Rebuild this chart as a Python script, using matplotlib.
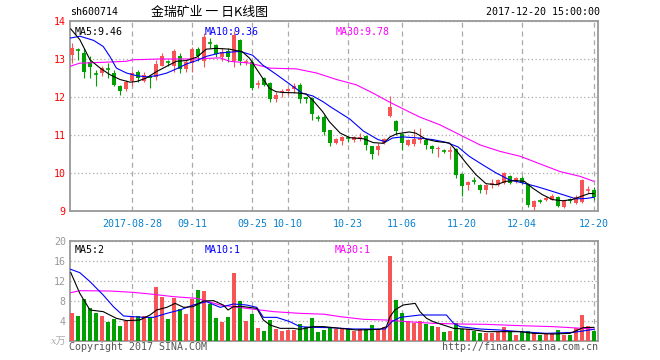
import matplotlib
matplotlib.use("Agg")
import matplotlib.pyplot as plt
from matplotlib.patches import Rectangle

# daily candles, 2017-08-14 .. 2017-12-20 (index 0..87)
opens = [13.10, 13.25, 13.15, 12.91, 12.62, 12.63, 12.74, 12.63, 12.28, 12.22,
         12.41, 12.66, 12.41, 12.55, 12.52, 12.82, 12.92, 12.82, 13.09, 12.74,
         12.90, 13.26, 12.95, 13.42, 13.36, 13.05, 13.20, 12.95, 13.50, 12.90,
         12.93, 12.32, 12.49, 12.36, 11.95, 12.12, 12.16, 12.20, 12.31, 11.99,
         11.98, 11.47, 11.48, 11.12, 10.79, 10.83, 10.93, 10.88, 10.93, 10.98,
         10.70, 10.61, 10.79, 11.51, 11.36, 11.03, 10.73, 10.77, 10.88, 10.87,
         10.72, 10.62, 10.58, 10.57, 10.62, 9.98, 9.69, 9.81, 9.69, 9.56,
         9.69, 9.69, 9.75, 9.91, 9.78, 9.87, 9.72, 9.10, 9.28, 9.28,
         9.30, 9.37, 9.10, 9.31, 9.21, 9.25, 9.55, 9.56]
highs = [13.42, 13.30, 13.28, 13.09, 12.72, 12.81, 12.89, 12.72, 12.32, 12.45,
         12.69, 12.72, 12.65, 12.59, 12.98, 13.16, 12.98, 13.26, 13.16, 12.98,
         13.31, 13.31, 13.69, 13.55, 13.40, 13.30, 13.30, 13.73, 13.52, 13.00,
         12.98, 12.45, 12.52, 12.40, 12.14, 12.22, 12.25, 12.36, 12.36, 12.00,
         12.00, 11.52, 11.52, 11.14, 10.92, 10.97, 10.98, 10.98, 11.05, 11.00,
         10.72, 10.78, 10.92, 12.02, 11.40, 11.05, 10.90, 11.16, 11.18, 10.90,
         10.74, 10.70, 10.62, 10.70, 10.66, 10.00, 9.80, 9.90, 9.72, 9.72,
         9.84, 9.84, 10.02, 9.95, 9.90, 9.93, 9.74, 9.28, 9.32, 9.40,
         9.45, 9.40, 9.28, 9.34, 9.42, 9.85, 9.65, 9.62]
lows = [12.90, 12.98, 12.50, 12.50, 12.30, 12.54, 12.50, 12.28, 12.06, 12.17,
        12.28, 12.39, 12.39, 12.24, 12.45, 12.81, 12.81, 12.65, 12.63, 12.67,
        12.65, 12.94, 12.80, 13.28, 13.05, 12.95, 12.93, 12.80, 12.85, 12.83,
        12.18, 12.25, 12.28, 11.88, 11.88, 12.00, 12.05, 12.10, 11.83, 11.83,
        11.39, 11.37, 11.00, 10.72, 10.76, 10.74, 10.82, 10.82, 10.84, 10.60,
        10.38, 10.48, 10.76, 11.47, 11.00, 10.60, 10.70, 10.70, 10.80, 10.62,
        10.53, 10.42, 10.52, 10.38, 9.87, 9.40, 9.55, 9.70, 9.48, 9.45,
        9.60, 9.66, 9.72, 9.70, 9.74, 9.72, 9.10, 9.02, 9.22, 9.26,
        9.28, 9.10, 9.08, 9.22, 9.18, 9.22, 9.48, 9.30]
closes = [13.29, 13.22, 12.66, 12.79, 12.60, 12.76, 12.72, 12.32, 12.17, 12.39,
          12.63, 12.50, 12.59, 12.50, 12.87, 13.09, 12.90, 13.22, 12.74, 12.91,
          13.26, 13.07, 13.57, 13.40, 13.12, 13.18, 13.05, 13.64, 12.95, 12.93,
          12.24, 12.35, 12.31, 11.95, 12.04, 12.15, 12.20, 12.28, 11.96, 11.95,
          11.54, 11.45, 11.09, 10.80, 10.89, 10.95, 10.91, 10.95, 10.96, 10.74,
          10.50, 10.70, 10.90, 11.73, 11.11, 10.79, 10.88, 10.89, 10.92, 10.74,
          10.64, 10.65, 10.56, 10.60, 9.96, 9.67, 9.76, 9.79, 9.54, 9.69,
          9.74, 9.81, 9.99, 9.74, 9.87, 9.74, 9.17, 9.27, 9.27, 9.34,
          9.40, 9.12, 9.25, 9.29, 9.37, 9.82, 9.58, 9.36]
# volume, x 10k lots
volumes = [5.60, 4.94, 8.27, 6.60, 5.60, 4.94, 3.80, 4.27, 2.94, 4.00,
           4.94, 4.94, 4.94, 4.67, 10.80, 8.80, 4.27, 8.60, 6.27, 5.34,
           8.34, 10.14, 9.94, 7.34, 4.60, 3.80, 4.67, 13.60, 7.94, 3.94,
           5.34, 2.47, 2.00, 4.14, 2.34, 2.00, 2.14, 2.14, 3.27, 2.80,
           4.60, 1.80, 2.14, 2.70, 2.27, 2.27, 2.27, 2.00, 2.27, 2.27,
           3.14, 2.27, 2.80, 16.94, 8.14, 5.60, 4.00, 3.60, 4.00, 3.34,
           2.94, 2.67, 1.74, 2.00, 3.47, 2.27, 2.27, 1.94, 1.47, 1.60,
           1.60, 1.80, 2.80, 1.80, 1.14, 1.80, 2.00, 1.47, 1.14, 1.47,
           1.47, 2.14, 1.14, 1.14, 2.47, 5.14, 2.94, 2.00]

# moving-average lines (index, value)
ma5_x = [-0.2, 1.3, 3, 4.7, 6.3, 8, 9.7, 10.8, 12.4, 14.1, 15.8, 17.4, 19.1, 20.8,
         22.4, 24.1, 26.2, 28.4, 29.6, 30.7, 31.8, 32.9, 34, 35.1, 37.3, 39, 40.1,
         41.8, 42.9, 44.7, 46.3, 48.6, 50.2, 51.9, 53, 54.1, 56.2, 57.3, 59, 60.7,
         62.9, 64, 65.7, 67.3, 69, 70.7, 72.3, 74, 75.4, 76.8, 78.4, 80.1, 81.8,
         83.4, 85.1, 86.2, 87]
ma5_y = [13.79, 13.51, 12.98, 12.76, 12.59, 12.46, 12.39, 12.41, 12.50, 12.67,
         12.81, 12.94, 12.96, 13.05, 13.26, 13.28, 13.26, 13.19, 13.02, 12.75,
         12.49, 12.23, 12.14, 12.12, 12.11, 12.08, 11.92, 11.61, 11.35, 11.05,
         10.93, 10.90, 10.80, 10.78, 10.95, 11.03, 11.08, 11.05, 10.89, 10.83,
         10.79, 10.60, 10.26, 9.96, 9.72, 9.69, 9.78, 9.80, 9.78, 9.60, 9.43,
         9.30, 9.27, 9.30, 9.40, 9.46, 9.46]
ma10_x = [-0.3, 1.3, 3.6, 5.2, 6.3, 7.4, 9.1, 10.8, 12.4, 14.1, 15.8, 17.4, 19.1,
          20.8, 22.4, 24.7, 28, 30.1, 31.8, 34, 36.2, 38.4, 40.1, 41.8, 43, 46.3,
          48.6, 51, 52.3, 53.4, 55.1, 57.9, 60.1, 62.3, 64.3, 66.2, 68.4, 70.7,
          72.9, 75.1, 77.3, 79.6, 81.8, 84, 85.7, 87]
ma10_y = [13.55, 13.60, 13.49, 13.33, 13.07, 12.76, 12.63, 12.56, 12.53, 12.56,
          12.63, 12.74, 12.87, 12.96, 13.07, 13.16, 13.20, 13.10, 12.84, 12.60,
          12.35, 12.10, 12.03, 11.88, 11.75, 11.42, 11.10, 10.88, 10.82, 10.92,
          10.95, 10.92, 10.88, 10.81, 10.69, 10.44, 10.22, 10.00, 9.82, 9.74,
          9.65, 9.54, 9.43, 9.32, 9.33, 9.36]
ma30_x = [-0.3, 1.3, 4.7, 9.1, 10.2, 14.7, 20.2, 24.7, 26.3, 29.7, 33, 37.4, 40.8,
          44.1, 47.4, 50.2, 53, 56.3, 58, 61.3, 64.7, 68, 71.3, 74.7, 78, 81.3,
          84.7, 87]
ma30_y = [12.81, 12.89, 12.91, 12.94, 12.98, 13.00, 13.00, 13.03, 12.94, 12.89,
          12.76, 12.74, 12.63, 12.46, 12.32, 12.10, 11.86, 11.60, 11.47, 11.27,
          11.00, 10.74, 10.57, 10.44, 10.24, 10.04, 9.91, 9.78]

vma5_x = [-0.2, 1.3, 3, 5.2, 7.4, 9.1, 11.3, 13, 14.1, 15.8, 17.2, 18.6, 20.2,
          21.9, 23.6, 25.2, 26, 26.9, 28.6, 30.8, 31.9, 33, 34.7, 36.9, 38, 40.2,
          42, 44.7, 47.4, 51.3, 52.4, 53, 53.8, 55.2, 57.2, 58, 59.1, 60.2, 62.4,
          63.6, 66.3, 69.1, 71.9, 74.7, 76.9, 80.2, 83, 85.2, 87]
vma5_y = [13.61, 9.47, 6.14, 5.81, 4.47, 4.01, 4.14, 5.14, 6.14, 6.67, 7.47, 6.67,
          6.81, 7.94, 8.01, 7.14, 6.14, 6.81, 6.81, 6.47, 4.14, 3.14, 2.47, 2.47,
          2.27, 2.81, 2.81, 2.47, 2.14, 2.27, 2.81, 4.81, 6.14, 7.14, 7.47, 5.81,
          4.47, 3.81, 2.94, 2.47, 2.27, 1.81, 1.81, 1.81, 1.47, 1.34, 1.47, 2.61,
          2.67]
vma10_x = [-0.2, 1.3, 3, 5.2, 6.9, 8.6, 11.9, 13.6, 15.8, 18, 20.2, 22.4, 24.7,
           26.9, 29.1, 30.8, 31.9, 34.1, 36.3, 38, 40.2, 43, 46.9, 52.2, 53.3,
           54.7, 58, 62.4, 63.6, 64.7, 68, 71.3, 74.7, 79.1, 83.6, 87]
vma10_y = [14.27, 13.61, 11.81, 9.14, 6.81, 4.94, 4.67, 4.67, 5.47, 6.14, 7.14,
           7.81, 6.67, 7.34, 7.14, 6.67, 4.67, 4.67, 3.81, 2.81, 2.67, 2.61, 2.34,
           2.34, 3.81, 4.67, 5.14, 5.14, 3.47, 2.81, 2.34, 2.14, 1.81, 1.47, 1.67,
           2.27]
vma30_x = [-0.2, 1.3, 6.3, 10.2, 13.6, 16.9, 20.8, 24.7, 29.1, 33.6, 38, 42, 44.7,
           48.6, 52.4, 55.8, 60.2, 64.7, 69.1, 74.7, 80.2, 85.2, 87]
vma30_y = [9.61, 10.01, 9.94, 9.67, 9.27, 8.81, 8.47, 7.14, 6.47, 5.81, 5.47, 5.30,
           4.81, 4.27, 4.14, 3.81, 3.47, 3.34, 3.27, 3.01, 2.81, 2.47, 2.27]

date_idx = [10, 20, 30, 36, 46, 55, 65, 75, 87]
date_labels = ["2017-08-28", "09-11", "09-25", "10-10", "10-23",
               "11-06", "11-20", "12-04", "12-20"]
price_ticks = [9, 10, 11, 12, 13, 14]
vol_ticks = [4, 8, 12, 16, 20]

RED = "#f75555"
GREEN = "#00a000"
GRIDC = "#aaaaaa"
FRAME = "#999999"
MONO = ["DejaVu Sans Mono", "Noto Sans CJK SC"]
FS = 7.2
BODY_W = 0.7

fig = plt.figure(figsize=(6.6, 3.6), dpi=100)
W, H = 660.0, 360.0
ax = fig.add_axes([70 / W, 1 - 211 / H, 528 / W, 190 / H])
axv = fig.add_axes([70 / W, 1 - 340.7 / H, 528 / W, 100 / H])

xlo, xhi = -1 / 3, 87.67


def style(a):
    for s in a.spines.values():
        s.set_color(FRAME)
        s.set_linewidth(1.3)
    a.set_xlim(xlo, xhi)
    a.tick_params(length=0)
    a.grid(axis="x", color=GRIDC, linestyle=(0, (4, 3)), linewidth=0.9)
    a.grid(axis="y", color=GRIDC, linestyle=(0, (1, 2)), linewidth=0.9)
    a.set_axisbelow(True)


# ---- price panel ----
style(ax)
ax.set_ylim(9, 14)
ax.set_yticks(price_ticks)
ax.set_yticklabels([str(t) for t in price_ticks], color="red",
                   family=MONO, fontsize=FS)
ax.tick_params(axis="y", pad=3)
ax.set_xticks(date_idx)
ax.set_xticklabels(date_labels, color="#0a80cc", family=MONO, fontsize=FS)
ax.tick_params(axis="x", pad=6)

for i, (o, h, l, c) in enumerate(zip(opens, highs, lows, closes)):
    col = RED if c >= o else GREEN
    ax.vlines(i, l, h, color=col, linewidth=0.8, zorder=3)
    lo, hi = min(o, c), max(o, c)
    if hi - lo < 0.03:
        ax.hlines((o + c) / 2, i - BODY_W / 2, i + BODY_W / 2, color=col,
                  linewidth=1.2, zorder=3)
    else:
        ax.add_patch(Rectangle((i - BODY_W / 2, lo), BODY_W, hi - lo,
                               facecolor=col, edgecolor="none", zorder=3))

ax.plot(ma30_x, ma30_y, color="#ff00ff", linewidth=0.8, zorder=4)
ax.plot(ma10_x, ma10_y, color="#0000ff", linewidth=0.8, zorder=4)
ax.plot(ma5_x, ma5_y, color="black", linewidth=0.8, zorder=4)

ax.text(0.008, 0.94, "MA5:9.46", transform=ax.transAxes, color="black",
        family=MONO, fontsize=FS, va="center", ha="left", zorder=6)
ax.text((205 - 70) / 528, 0.94, "MA10:9.36", transform=ax.transAxes, color="#0000ff",
        family=MONO, fontsize=FS, va="center", ha="left", zorder=6)
ax.text((336 - 70) / 528, 0.94, "MA30:9.78", transform=ax.transAxes, color="#ff00ff",
        family=MONO, fontsize=FS, va="center", ha="left", zorder=6)

# ---- volume panel ----
style(axv)
axv.set_ylim(0, 20)
axv.set_yticks(vol_ticks)
axv.set_yticklabels([str(t) for t in vol_ticks], color="#999999",
                    family=MONO, fontsize=FS)
axv.tick_params(axis="y", pad=3)
axv.set_xticks(date_idx)
axv.set_xticklabels([])

vcols = [RED if c >= o else GREEN for o, c in zip(opens, closes)]
axv.bar(range(len(volumes)), volumes, width=0.78, color=vcols, zorder=3)
axv.plot(vma30_x, vma30_y, color="#ff00ff", linewidth=0.8, zorder=4)
axv.plot(vma10_x, vma10_y, color="#0000ff", linewidth=0.8, zorder=4)
axv.plot(vma5_x, vma5_y, color="black", linewidth=0.8, zorder=4)

axv.text(0.008, 0.91, "MA5:2", transform=axv.transAxes, color="black",
         family=MONO, fontsize=FS, va="center", ha="left", zorder=6)
axv.text((205 - 70) / 528, 0.91, "MA10:1", transform=axv.transAxes, color="#0000ff",
         family=MONO, fontsize=FS, va="center", ha="left", zorder=6)
axv.text((335 - 70) / 528, 0.91, "MA30:1", transform=axv.transAxes, color="#ff00ff",
         family=MONO, fontsize=FS, va="center", ha="left", zorder=6)
fig.text(67 / W, 1 - 341 / H, "x万", color="#aaaaaa", fontsize=FS, style="italic",
         family=["DejaVu Serif", "Noto Sans CJK SC"], ha="right", va="center")

# ---- header / footer ----
fig.text(70 / W, 1 - 12 / H, "sh600714", family=MONO, fontsize=FS,
         color="black", va="center")
fig.text(151 / W, 1 - 12 / H, "金瑞矿业 一 日K线图", family=["Noto Sans CJK SC"],
         fontsize=9.3, color="black", va="center")
fig.text(600 / W, 1 - 12 / H, "2017-12-20 15:00:00", family=MONO, fontsize=FS,
         color="black", va="center", ha="right")
fig.text(69 / W, 1 - 347 / H, "Copyright 2017 SINA.COM", family=MONO, fontsize=FS,
         color="#555555", va="center")
fig.text(598 / W, 1 - 347 / H, "http://finance.sina.com.cn", family=MONO, fontsize=FS,
         color="#555555", va="center", ha="right")

fig.savefig("out.png", dpi=100)
